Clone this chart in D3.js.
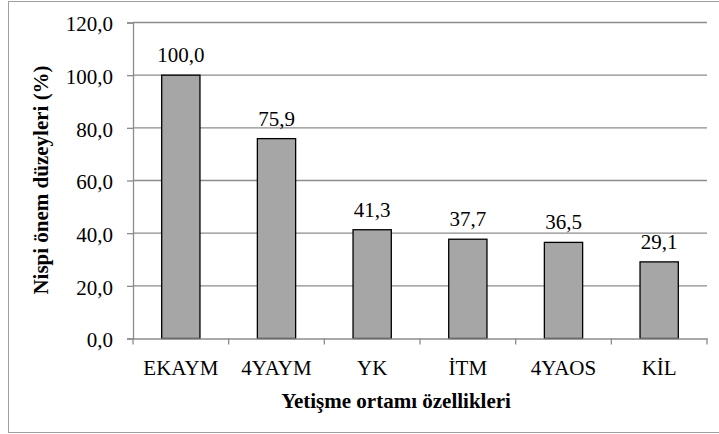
<!DOCTYPE html>
<html><head><meta charset="utf-8">
<script src="https://cdn.jsdelivr.net/npm/d3@7"></script>
<style>body{margin:0;background:#fff}svg{display:block}</style>
</head><body>
<svg id="c" width="719" height="434"></svg>
<script>
const categories = ["EKAYM","4YAYM","YK","İTM","4YAOS","KİL"];
const values = [100.0, 75.9, 41.3, 37.7, 36.5, 29.1];
const yTicks = [0,20,40,60,80,100,120];
const xTitle = "Yetişme ortamı özellikleri";
const yTitle = "Nispi önem düzeyleri (%)";

const FONT = "Liberation Serif, Times New Roman, Times, DejaVu Serif, serif";
const svg = d3.select("#c").attr("font-family", FONT);
const fmt = v => v.toFixed(1).replace(".", ",");
const L = 133, R = 707, T = 22.5, B = 338.5;

svg.append("rect").attr("x",8.5).attr("y",1.5).attr("width",740).attr("height",431)
  .attr("fill","#fff").attr("stroke","#a0a0a0").attr("stroke-width",1);

const x = d3.scaleBand().domain(categories).range([L,R]).paddingInner(0.6).paddingOuter(0.3);
const y = d3.scaleLinear().domain([0,120]).range([B,T]);

svg.append("g").selectAll("line").data(yTicks.filter(d=>d>0)).join("line")
  .attr("x1",L).attr("x2",R).attr("y1",d=>y(d)).attr("y2",d=>y(d))
  .attr("stroke","#8c8c8c").attr("stroke-width",1.3);

const ya = svg.append("g").attr("transform",`translate(${L},0)`)
  .call(d3.axisLeft(y).tickValues(yTicks).tickFormat(fmt).tickSize(6).tickPadding(14));
ya.attr("font-family", FONT).attr("font-size", 21);
ya.select(".domain").attr("stroke","#8c8c8c").attr("stroke-width",1.3);
ya.selectAll(".tick line").attr("stroke","#8c8c8c").attr("stroke-width",1.3);
ya.selectAll(".tick text").attr("fill","#000").attr("dy","0.4em");

svg.append("g").selectAll("rect").data(values).join("rect")
  .attr("x",(d,i)=>x(categories[i])).attr("width",x.bandwidth())
  .attr("y",d=>y(d)).attr("height",d=>B-y(d))
  .attr("fill","#a6a6a6").attr("stroke","#000").attr("stroke-width",1.3);

const xa = svg.append("g").attr("transform",`translate(0,${B})`)
  .call(d3.axisBottom(x).tickSize(0).tickPadding(22));
xa.attr("font-family", FONT).attr("font-size", 21);
xa.select(".domain").attr("stroke","#8c8c8c").attr("stroke-width",1.3);
xa.selectAll(".tick text").attr("fill","#000").attr("dy","0.71em");
const bounds = d3.range(categories.length+1).map(i => L + i*(R-L)/categories.length);
svg.append("g").selectAll("line").data(bounds).join("line")
  .attr("x1",d=>d).attr("x2",d=>d).attr("y1",B).attr("y2",B+6)
  .attr("stroke","#8c8c8c").attr("stroke-width",1.3);

svg.append("g").selectAll("text").data(values).join("text")
  .attr("x",(d,i)=>x(categories[i])+x.bandwidth()/2).attr("y",d=>y(d)-13)
  .attr("text-anchor","middle").attr("font-size",21).attr("fill","#000").text(fmt);

svg.append("text").attr("x",396).attr("y",408).attr("text-anchor","middle")
  .attr("font-size",21).attr("font-weight","bold").text(xTitle);
svg.append("text").attr("transform","translate(48,180) rotate(-90)").attr("text-anchor","middle")
  .attr("font-size",21).attr("font-weight","bold").text(yTitle);
</script>
</body></html>
